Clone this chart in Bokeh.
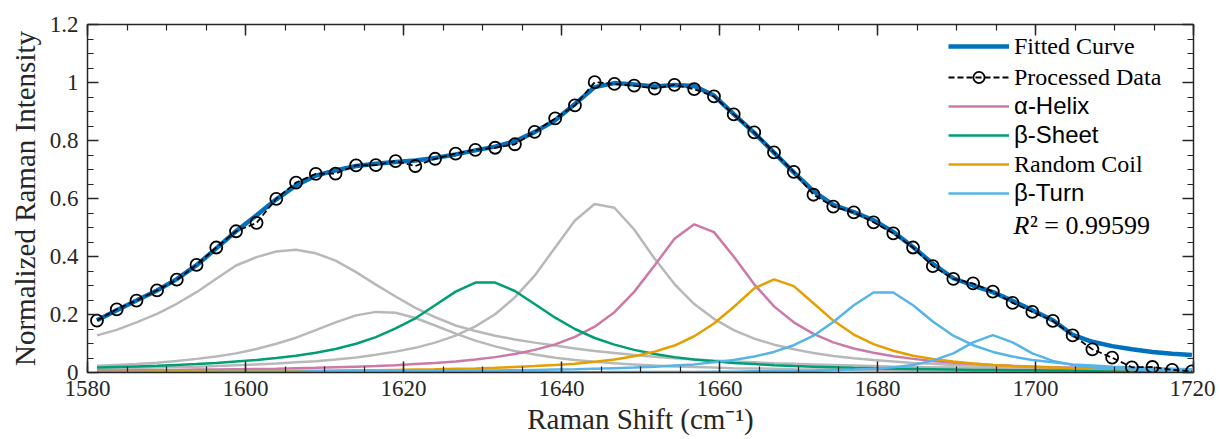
from bokeh.plotting import figure
from bokeh.models import (FixedTicker, LinearAxis, Range1d, Legend, LegendItem,
                          Label, CustomJSTickFormatter)
from bokeh.embed import file_html
from bokeh.resources import INLINE

# ---------------- data ----------------
shift = [1581.2, 1583.7, 1586.2, 1588.8, 1591.3, 1593.8, 1596.3, 1598.8, 1601.4, 1603.9,
         1606.4, 1608.9, 1611.4, 1614.0, 1616.5, 1619.0, 1621.5, 1624.0, 1626.6, 1629.1,
         1631.6, 1634.1, 1636.6, 1639.2, 1641.7, 1644.2, 1646.7, 1649.2, 1651.8, 1654.3,
         1656.8, 1659.3, 1661.8, 1664.4, 1666.9, 1669.4, 1671.9, 1674.4, 1677.0, 1679.5,
         1682.0, 1684.5, 1687.0, 1689.6, 1692.1, 1694.6, 1697.1, 1699.6, 1702.2, 1704.7,
         1707.2, 1709.7, 1712.2, 1714.8, 1717.3, 1719.8]

processed = [0.179, 0.218, 0.248, 0.283, 0.320, 0.371, 0.431, 0.487, 0.516, 0.599,
             0.655, 0.685, 0.686, 0.714, 0.715, 0.729, 0.712, 0.737, 0.755, 0.768,
             0.775, 0.787, 0.830, 0.876, 0.921, 1.001, 0.995, 0.989, 0.979, 0.992,
             0.977, 0.952, 0.890, 0.828, 0.759, 0.692, 0.613, 0.572, 0.552, 0.518,
             0.480, 0.431, 0.367, 0.323, 0.307, 0.279, 0.240, 0.209, 0.178, 0.128,
             0.080, 0.051, 0.018, 0.019, 0.009, 0.004]

fitted = [0.180, 0.215, 0.248, 0.283, 0.322, 0.370, 0.428, 0.487, 0.542, 0.597,
          0.645, 0.679, 0.697, 0.712, 0.720, 0.726, 0.731, 0.740, 0.752, 0.766,
          0.779, 0.797, 0.829, 0.870, 0.926, 0.984, 0.998, 0.993, 0.986, 0.991,
          0.988, 0.955, 0.891, 0.826, 0.758, 0.690, 0.625, 0.578, 0.553, 0.525,
          0.485, 0.433, 0.375, 0.325, 0.300, 0.277, 0.247, 0.215, 0.180, 0.130,
          0.106, 0.091, 0.080, 0.071, 0.065, 0.060]

other_1 = [0.128, 0.147, 0.173, 0.202, 0.237, 0.277, 0.323, 0.369, 0.398, 0.417,
           0.423, 0.411, 0.386, 0.346, 0.303, 0.262, 0.223, 0.191, 0.162, 0.143,
           0.127, 0.114, 0.103, 0.093, 0.083, 0.074, 0.067, 0.060, 0.054, 0.049,
           0.045, 0.041, 0.038, 0.035, 0.032, 0.030, 0.028, 0.026, 0.024, 0.022,
           0.020, 0.019, 0.018, 0.017, 0.016, 0.016, 0.015, 0.014, 0.013, 0.013,
           0.012, 0.012, 0.011, 0.011, 0.010, 0.010]

other_2 = [0.023, 0.026, 0.029, 0.034, 0.040, 0.047, 0.055, 0.066, 0.081, 0.099,
           0.120, 0.146, 0.173, 0.197, 0.209, 0.206, 0.188, 0.162, 0.134, 0.110,
           0.090, 0.074, 0.062, 0.051, 0.043, 0.037, 0.032, 0.028, 0.024, 0.021,
           0.019, 0.017, 0.015, 0.014, 0.013, 0.011, 0.010, 0.010, 0.009, 0.008,
           0.008, 0.007, 0.007, 0.006, 0.006, 0.005, 0.005, 0.005, 0.004, 0.004,
           0.004, 0.004, 0.004, 0.003, 0.003, 0.003]

other_3 = [0.013, 0.014, 0.016, 0.017, 0.019, 0.020, 0.022, 0.025, 0.028, 0.031,
           0.035, 0.039, 0.045, 0.052, 0.061, 0.072, 0.085, 0.103, 0.127, 0.159,
           0.201, 0.259, 0.334, 0.431, 0.524, 0.581, 0.568, 0.493, 0.392, 0.305,
           0.236, 0.185, 0.146, 0.117, 0.096, 0.080, 0.067, 0.057, 0.049, 0.043,
           0.038, 0.033, 0.030, 0.026, 0.024, 0.022, 0.020, 0.018, 0.016, 0.015,
           0.014, 0.013, 0.012, 0.011, 0.010, 0.010]

alpha_helix = [0.007, 0.007, 0.008, 0.008, 0.009, 0.010, 0.010, 0.011, 0.012, 0.013,
               0.015, 0.016, 0.018, 0.020, 0.022, 0.025, 0.029, 0.033, 0.038, 0.045,
               0.053, 0.064, 0.078, 0.097, 0.123, 0.158, 0.208, 0.278, 0.370, 0.461,
               0.511, 0.484, 0.400, 0.304, 0.228, 0.173, 0.133, 0.104, 0.083, 0.068,
               0.056, 0.047, 0.040, 0.034, 0.030, 0.026, 0.023, 0.021, 0.018, 0.017,
               0.015, 0.014, 0.013, 0.011, 0.011, 0.010]

beta_sheet = [0.017, 0.019, 0.021, 0.023, 0.026, 0.029, 0.033, 0.038, 0.043, 0.050,
              0.058, 0.068, 0.081, 0.099, 0.122, 0.152, 0.187, 0.232, 0.279, 0.310,
              0.310, 0.281, 0.236, 0.189, 0.150, 0.119, 0.096, 0.078, 0.064, 0.053,
              0.045, 0.039, 0.033, 0.029, 0.025, 0.022, 0.020, 0.018, 0.016, 0.015,
              0.013, 0.012, 0.011, 0.010, 0.009, 0.009, 0.008, 0.008, 0.007, 0.007,
              0.006, 0.006, 0.005, 0.005, 0.005, 0.005]

random_coil = [0.003, 0.003, 0.003, 0.004, 0.004, 0.004, 0.004, 0.005, 0.005, 0.005,
               0.006, 0.006, 0.007, 0.008, 0.008, 0.009, 0.010, 0.011, 0.013, 0.014,
               0.016, 0.019, 0.022, 0.026, 0.030, 0.037, 0.045, 0.056, 0.072, 0.093,
               0.125, 0.169, 0.226, 0.290, 0.321, 0.298, 0.239, 0.179, 0.131, 0.098,
               0.075, 0.058, 0.047, 0.038, 0.031, 0.026, 0.022, 0.019, 0.017, 0.015,
               0.013, 0.012, 0.010, 0.009, 0.008, 0.008]

beta_turn_1 = [0.002, 0.002, 0.002, 0.002, 0.002, 0.002, 0.003, 0.003, 0.003, 0.003,
               0.003, 0.004, 0.004, 0.004, 0.004, 0.005, 0.005, 0.006, 0.006, 0.007,
               0.007, 0.008, 0.009, 0.010, 0.011, 0.013, 0.015, 0.017, 0.020, 0.024,
               0.028, 0.035, 0.043, 0.055, 0.071, 0.094, 0.127, 0.174, 0.232, 0.276,
               0.276, 0.232, 0.176, 0.127, 0.094, 0.071, 0.055, 0.043, 0.035, 0.028,
               0.024, 0.020, 0.017, 0.015, 0.013, 0.011]

beta_turn_2 = [0.000, 0.000, 0.000, 0.000, 0.000, 0.000, 0.000, 0.000, 0.000, 0.000,
               0.000, 0.001, 0.001, 0.001, 0.001, 0.001, 0.001, 0.001, 0.001, 0.001,
               0.001, 0.001, 0.001, 0.001, 0.001, 0.001, 0.002, 0.002, 0.002, 0.002,
               0.002, 0.003, 0.003, 0.004, 0.004, 0.005, 0.006, 0.008, 0.010, 0.013,
               0.018, 0.026, 0.041, 0.066, 0.104, 0.129, 0.104, 0.066, 0.040, 0.026,
               0.018, 0.013, 0.010, 0.008, 0.006, 0.005]

x_major = [1580, 1600, 1620, 1640, 1660, 1680, 1700, 1720]
y_major = [0, 0.2, 0.4, 0.6, 0.8, 1, 1.2]
r_squared = "0.99599"

# ---------------- styling ----------------
C_FIT = "#0072BD"
C_GRAY = "#B8B8B8"
C_PINK = "#CC79A7"
C_GREEN = "#009E73"
C_ORANGE = "#E69F00"
C_SKY = "#56B4E9"
AX = "#262626"
SERIF = "Liberation Serif"
SANS = "Liberation Sans"

p = figure(frame_width=1106, frame_height=348, output_backend="svg",
           toolbar_location=None,
           x_range=Range1d(1580, 1720), y_range=Range1d(0, 1.2),
           min_border_left=87, min_border_right=22, min_border_top=24,
           min_border_bottom=63)
p.outline_line_color = None
p.xgrid.visible = False
p.ygrid.visible = False
p.background_fill_color = "white"
p.border_fill_color = "white"

x_minor = list(range(1580, 1721, 5))
y_minor = [round(k * 0.05, 2) for k in range(25)]
xt = FixedTicker(ticks=x_major, minor_ticks=x_minor)
yt = FixedTicker(ticks=y_major, minor_ticks=y_minor)


def style_axis(ax, ticker):
    ax.ticker = ticker
    ax.axis_line_color = AX
    ax.axis_line_width = 1.5
    ax.major_tick_line_color = AX
    ax.minor_tick_line_color = AX
    ax.major_tick_line_width = 1.5
    ax.minor_tick_line_width = 1.2
    ax.major_tick_in = 11
    ax.major_tick_out = 0
    ax.minor_tick_in = 6
    ax.minor_tick_out = 0
    ax.major_label_text_font = SERIF
    ax.major_label_text_font_size = "23px"
    ax.major_label_text_color = AX


xa = p.xaxis[0]
ya = p.yaxis[0]
style_axis(xa, xt)
style_axis(ya, yt)
ya.formatter = CustomJSTickFormatter(code="return String(Math.round(tick*100)/100);")
xa.major_label_standoff = 8
ya.major_label_standoff = 9
xa.axis_label = "Raman Shift (cm\u207b\u00b9)"
ya.axis_label = "Normalized Raman Intensity"
for ax in (xa, ya):
    ax.axis_label_text_font = SERIF
    ax.axis_label_text_font_size = "29px"
    ax.axis_label_text_font_style = "normal"
    ax.axis_label_text_color = AX
xa.axis_label_standoff = 4
ya.axis_label_standoff = 6

top = LinearAxis()
right = LinearAxis()
style_axis(top, xt)
style_axis(right, yt)
for ax in (top, right):
    ax.formatter = CustomJSTickFormatter(code="return '';")
    ax.major_label_standoff = 0
p.add_layout(top, "above")
p.add_layout(right, "right")

# ---------------- glyphs ----------------
for arr in (other_1, other_2, other_3):
    p.line(shift, arr, line_color=C_GRAY, line_width=2.5)

r_ah = p.line(shift, alpha_helix, line_color=C_PINK, line_width=2.5)
r_bs = p.line(shift, beta_sheet, line_color=C_GREEN, line_width=2.5)
r_rc = p.line(shift, random_coil, line_color=C_ORANGE, line_width=2.5)
r_bt = p.line(shift, beta_turn_1, line_color=C_SKY, line_width=2.5)
p.line(shift, beta_turn_2, line_color=C_SKY, line_width=2.5)

r_fit = p.line(shift, fitted, line_color=C_FIT, line_width=4.5)
r_dl = p.line(shift, processed, line_color="black", line_width=1.8, line_dash="6 3")
r_dm = p.scatter(shift, processed, marker="circle", size=12, fill_color=None,
                 line_color="black", line_width=1.8)

# ---------------- legend (one entry per box, to mix fonts) ----------------
entries = [("Fitted Curve", [r_fit], SERIF, 312),
           ("Processed Data", [r_dl, r_dm], SERIF, 281),
           ("\u03b1-Helix", [r_ah], SANS, 252),
           ("\u03b2-Sheet", [r_bs], SANS, 223),
           ("Random Coil", [r_rc], SERIF, 194),
           ("\u03b2-Turn", [r_bt], SANS, 165)]
for lab, rends, font, ypos in entries:
    leg = Legend(items=[LegendItem(label=lab, renderers=rends)], location=(861, ypos),
                 label_text_font=font, label_text_font_size="24px",
                 label_text_color="black", glyph_width=61, glyph_height=28,
                 label_height=28, label_standoff=5, padding=0, margin=0, spacing=0,
                 border_line_alpha=0, background_fill_alpha=0)
    p.add_layout(leg)

p.add_layout(Label(x=1697.2, y=0.507, text="R", text_font=SERIF,
                   text_font_style="italic", text_font_size="26px",
                   text_baseline="middle", text_color="black"))
p.add_layout(Label(x=1699.3, y=0.507, text="\u00b2 = " + r_squared, text_font=SERIF,
                   text_font_size="26px", text_baseline="middle", text_color="black"))

open("out.html", "w").write(file_html(p, INLINE))
